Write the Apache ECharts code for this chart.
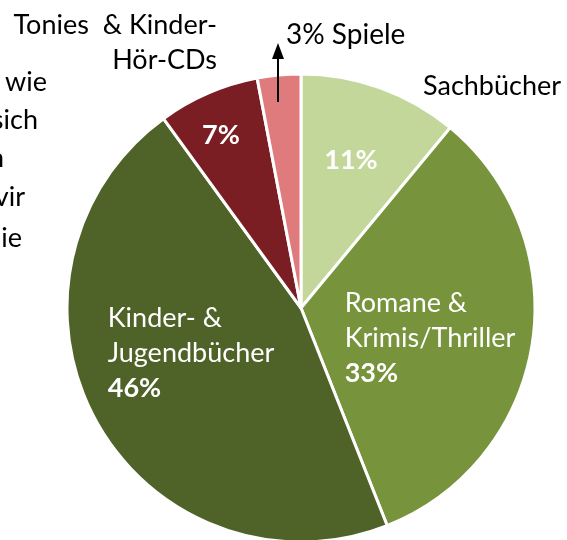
<!DOCTYPE html>
<html>
<head>
<meta charset="utf-8">
<script src="https://cdn.jsdelivr.net/npm/echarts@6/dist/echarts.min.js"></script>
<style>
  html, body { margin: 0; padding: 0; background: #fff; }
  #chart { width: 567px; height: 540px; }
</style>
</head>
<body>
<div id="chart"></div>
<script>
  // Anteile nach Warengruppe (im Uhrzeigersinn ab 12 Uhr)
  var categories = ['Sachbücher', 'Romane & Krimis/Thriller', 'Kinder- & Jugendbücher', 'Tonies & Kinder-Hör-CDs', 'Spiele'];
  var shares = [11, 33, 46, 7, 3];
  var colors = ['#c4d79b', '#77933c', '#4f6228', '#7a1e24', '#e07b7d'];
  var insideLabels = [
    '{b|11%}',
    '{n|Romane &}\n{n|Krimis/Thriller}\n{b|33%}',
    '{n|Kinder- &}\n{n|Jugendbücher}\n{b|46%}',
    '{b|7%}',
    ''
  ];
  // Mittelpunkte der Beschriftungen im Bild
  var labelPos = [[351, 160], [430, 338], [191, 353], [221, 135], [0, 0]];

  // Reste vom abgeschnittenen Textfeld links
  var sideText = ['wie', 'sich', 'n', 'vir', 'ie'];
  var sideRight = [47, 38, 4, 25, 22];
  var sideY = [82, 120, 158, 197, 238];

  var FONT = 'Lato';
  var myChart = echarts.init(document.getElementById('chart'));

  var pieData = categories.map(function (c, i) {
    return {
      name: c,
      value: shares[i],
      itemStyle: { color: colors[i] },
      label: { show: insideLabels[i] !== '', formatter: insideLabels[i] }
    };
  });

  var graphics = [
    {
      type: 'text', x: 217, y: 25,
      style: { text: 'Tonies  & Kinder-', fill: '#000', font: '27px ' + FONT, align: 'right', verticalAlign: 'middle' }
    },
    {
      type: 'text', x: 217, y: 60,
      style: { text: 'Hör-CDs', fill: '#000', font: '27px ' + FONT, align: 'right', verticalAlign: 'middle' }
    },
    {
      type: 'text', x: 286, y: 35,
      style: { text: '3% Spiele', fill: '#000', font: '28px ' + FONT, align: 'left', verticalAlign: 'middle' }
    },
    {
      type: 'text', x: 423, y: 86,
      style: { text: 'Sachbücher', fill: '#000', font: '27px ' + FONT, align: 'left', verticalAlign: 'middle' }
    },
    // Pfeil zu "Spiele" (liegt über dem Segment)
    {
      type: 'line', z: 100, shape: { x1: 278, y1: 102, x2: 278, y2: 56 },
      style: { stroke: '#000', lineWidth: 2 }
    },
    {
      type: 'polygon', z: 100, shape: { points: [[278, 43], [272, 59], [284, 59]] },
      style: { fill: '#000' }
    }
  ];
  sideText.forEach(function (t, i) {
    graphics.push({
      type: 'text', x: sideRight[i], y: sideY[i],
      style: { text: t, fill: '#000', font: '27px ' + FONT, align: 'right', verticalAlign: 'middle' }
    });
  });

  var option = {
    backgroundColor: '#fff',
    animation: false,
    series: [{
      type: 'pie',
      center: [301, 308],
      radius: 234,
      startAngle: 90,
      clockwise: true,
      avoidLabelOverlap: false,
      itemStyle: { borderColor: '#fff', borderWidth: 3 },
      label: {
        position: 'inside',
        color: '#fff',
        fontFamily: FONT,
        rich: {
          n: { color: '#fff', fontFamily: FONT, fontSize: 27, lineHeight: 35, align: 'left' },
          b: { color: '#fff', fontFamily: FONT, fontSize: 27, fontWeight: 'bold', lineHeight: 35, align: 'left' }
        }
      },
      labelLine: { show: false },
      labelLayout: function (params) {
        var p = labelPos[params.dataIndex];
        return { x: p[0], y: p[1], align: 'center', verticalAlign: 'middle' };
      },
      data: pieData
    }],
    graphic: graphics
  };
  myChart.setOption(option);
</script>
</body>
</html>
